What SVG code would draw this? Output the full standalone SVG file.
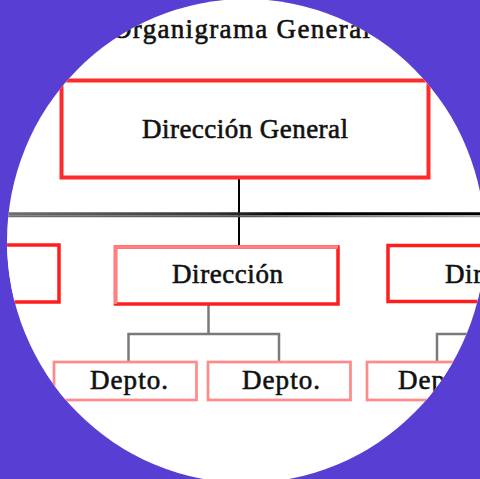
<svg xmlns="http://www.w3.org/2000/svg" width="480" height="479" viewBox="0 0 480 479">
  <defs>
    <clipPath id="circ">
      <ellipse cx="246" cy="241" rx="239" ry="242"/>
    </clipPath>
    <linearGradient id="hline" gradientUnits="userSpaceOnUse" x1="0" y1="0" x2="480" y2="0">
      <stop offset="0" stop-color="#707070"/>
      <stop offset="0.45" stop-color="#333"/>
      <stop offset="0.6" stop-color="#000"/>
      <stop offset="1" stop-color="#000"/>
    </linearGradient>
    <linearGradient id="hline2" gradientUnits="userSpaceOnUse" x1="0" y1="0" x2="480" y2="0">
      <stop offset="0" stop-color="#707070"/>
      <stop offset="0.5" stop-color="#555"/>
      <stop offset="1" stop-color="#aaa"/>
    </linearGradient>
  </defs>
  <style>
    .t { font-family: "Liberation Serif", "Times New Roman", serif; font-size: 27px; fill: #111; stroke: #111; stroke-width: 0.6; }
    .main { fill: #fff; stroke: #ff2a2a; stroke-width: 4; }
    .dir { fill: #fff; stroke: #ff1e1e; stroke-width: 3.5; }
    .hl { fill: none; stroke: #ff8080; stroke-width: 3.5; }
    .dep { fill: #fff; stroke: #ff8a8a; stroke-width: 2.7; }
    .c1 { stroke: #000; stroke-width: 2; fill: none; }
    .c2 { stroke: #7a7a7a; stroke-width: 2.5; fill: none; }
  </style>
  <rect x="0" y="0" width="480" height="479" fill="#583ed3"/>
  <g clip-path="url(#circ)">
    <rect x="0" y="0" width="480" height="479" fill="#fff"/>
    <text id="title" class="t" x="112" y="38" textLength="258" lengthAdjust="spacing">Organigrama General</text>

    <g id="connectors">
      <line class="c1" x1="239" y1="177" x2="239" y2="246"/>
      <line x1="0" y1="213.8" x2="480" y2="213.8" stroke="url(#hline)" stroke-width="3"/>
      <line x1="0" y1="216.3" x2="480" y2="216.3" stroke="url(#hline2)" stroke-width="2"/>
      <polyline class="c2" points="208.5,305 208.5,334"/>
      <polyline class="c2" points="128.5,362 128.5,334 279,334 279,362"/>
      <polyline class="c2" points="437,362 437,334 490,334"/>
    </g>

    <g id="n-direccion-general">
      <rect class="main" x="61.5" y="80.5" width="367" height="97"/>
      <text class="t" x="142" y="138" textLength="206" lengthAdjust="spacing">Dirección General</text>
    </g>

    <g id="n-direccion-left">
      <rect class="dir" x="-165" y="245" width="224" height="57"/>
    </g>

    <g id="n-direccion-mid">
      <rect class="dir" x="115.5" y="247" width="222.5" height="57"/>
      <path class="hl" d="M115.5,304 V247 H338"/>
      <text class="t" x="172" y="282.5" textLength="111" lengthAdjust="spacing">Dirección</text>
    </g>

    <g id="n-direccion-right">
      <rect class="dir" x="388" y="245.5" width="224" height="56"/>
      <text class="t" x="445" y="282.5" textLength="111" lengthAdjust="spacing">Dirección</text>
    </g>

    <g id="n-depto-1">
      <rect class="dep" x="54" y="362" width="142.5" height="38"/>
      <text class="t" x="90" y="389" textLength="78" lengthAdjust="spacing">Depto.</text>
    </g>
    <g id="n-depto-2">
      <rect class="dep" x="208" y="362" width="142.5" height="38"/>
      <text class="t" x="242" y="389" textLength="78" lengthAdjust="spacing">Depto.</text>
    </g>
    <g id="n-depto-3">
      <rect class="dep" x="367" y="362" width="142.5" height="38"/>
      <text class="t" x="398" y="389" textLength="78" lengthAdjust="spacing">Depto.</text>
    </g>
  </g>
</svg>
